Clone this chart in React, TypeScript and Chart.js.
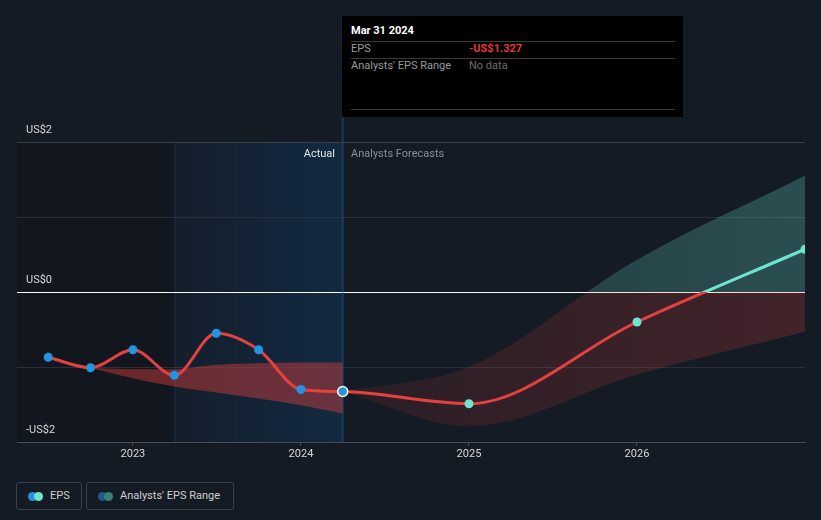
import React, { useEffect, useRef } from 'react';
import { Chart, registerables } from 'chart.js';

Chart.register(...registerables);

// ---- data ----
const epsDates = ['2022-06-30', '2022-09-30', '2022-12-31', '2023-03-31', '2023-06-30', '2023-09-30', '2023-12-31', '2024-03-31'];
const epsValues = [-0.87, -1.01, -0.77, -1.11, -0.55, -0.77, -1.3, -1.327];
const forecastDates = ['2024-12-31', '2025-12-31', '2026-12-31'];
const forecastValues = [-1.49, -0.4, 0.57];
const pastRangeDates = ['2022-09-30', '2022-12-31', '2023-03-31', '2023-06-30', '2023-09-30', '2023-12-31', '2024-03-31'];
const pastRangeHigh = [-1.01, -1.03, -1.03, -0.97, -0.95, -0.94, -0.94];
const pastRangeLow = [-1.01, -1.15, -1.26, -1.34, -1.42, -1.51, -1.62];
const futureRangeDates = ['2024-03-31', '2024-12-31', '2025-12-31', '2026-12-31'];
const futureRangeHigh = [-1.327, -1.0, 0.43, 1.55];
const futureRangeLow = [-1.327, -1.79, -1.1, -0.53];
const xTickYears = [2023, 2024, 2025, 2026];
const yGridValues = [-2, -1, 0, 1, 2];
const yLabelValues = [-2, 0, 2];
const highlightStart = '2023-03-31';
const highlightEnd = '2024-03-31';
const xMinYear = 2022.31;
const xMaxYear = 2027.0;

const toYear = (s: string) => {
  const d = new Date(s + 'T00:00:00Z');
  const y = d.getUTCFullYear();
  const start = Date.UTC(y, 0, 1);
  const end = Date.UTC(y + 1, 0, 1);
  return y + (d.getTime() - start + 86400000) / (end - start);
};

const pts = (dates: string[], vals: number[]) => dates.map((d, i) => ({ x: toYear(d), y: vals[i] }));

const RED = '#e5413f';
const CYAN = '#6ee6cf';
const BLUE = '#2394df';

const zeroGradient = (chart: any, above: string, below: string) => {
  const { ctx, chartArea, scales } = chart;
  if (!chartArea || !scales.y) return below;
  const y0 = scales.y.getPixelForValue(0);
  const g = ctx.createLinearGradient(0, chartArea.top, 0, chartArea.bottom);
  const s = Math.min(1, Math.max(0, (y0 - chartArea.top) / (chartArea.bottom - chartArea.top)));
  g.addColorStop(0, above);
  g.addColorStop(s, above);
  g.addColorStop(s, below);
  g.addColorStop(1, below);
  return g;
};

const zonePattern = (chart: any) => {
  const { chartArea, scales } = chart;
  if (!chartArea || !scales.y) return 'rgba(229,65,63,0.15)';
  const W = chart.width;
  const H = chart.height;
  const c = document.createElement('canvas');
  c.width = W;
  c.height = H;
  const g = c.getContext('2d') as CanvasRenderingContext2D;
  const y0 = scales.y.getPixelForValue(0);
  const x0 = scales.x.getPixelForValue(toYear(highlightEnd));
  const x1 = chartArea.right;
  const ga = g.createLinearGradient(x0, 0, x1, 0);
  ga.addColorStop(0, 'rgba(95,200,185,0.16)');
  ga.addColorStop(1, 'rgba(95,200,185,0.30)');
  g.fillStyle = ga;
  g.fillRect(0, 0, W, y0);
  const gb = g.createLinearGradient(x0, 0, x1, 0);
  gb.addColorStop(0, 'rgba(229,65,63,0.10)');
  gb.addColorStop(1, 'rgba(229,65,63,0.22)');
  g.fillStyle = gb;
  g.fillRect(0, y0, W, H - y0);
  return chart.ctx.createPattern(c, 'no-repeat');
};

const bandsPlugin = {
  id: 'bands',
  beforeDraw(chart: any) {
    const { ctx, chartArea: a, scales } = chart;
    const x = scales.x;
    const xs = x.getPixelForValue(toYear(highlightStart));
    const xe = x.getPixelForValue(toYear(highlightEnd));
    ctx.save();
    ctx.fillStyle = 'rgba(0,0,0,0.13)';
    ctx.fillRect(a.left, a.top, xs - a.left, a.bottom - a.top);
    const g = ctx.createLinearGradient(xs, 0, xe, 0);
    g.addColorStop(0, 'rgba(10,100,180,0.05)');
    g.addColorStop(1, 'rgba(10,100,180,0.21)');
    ctx.fillStyle = g;
    ctx.fillRect(xs, a.top, xe - xs, a.bottom - a.top);
    ctx.fillStyle = 'rgba(40,110,180,0.22)';
    ctx.fillRect(xs, a.top, 1, a.bottom - a.top);
    ctx.restore();
  },
  beforeDatasetsDraw(chart: any) {
    const { ctx, chartArea: a, scales } = chart;
    const xe = scales.x.getPixelForValue(toYear(highlightEnd));
    ctx.save();
    ctx.fillStyle = 'rgba(35,95,150,0.42)';
    ctx.fillRect(xe - 1, 16, 2, a.bottom - 16);
    ctx.restore();
  },
};

const FONT = 'Roboto, "Noto Sans", sans-serif';

export default function App() {
  const ref = useRef<HTMLCanvasElement | null>(null);

  useEffect(() => {
    document.body.style.margin = '0';
    document.body.style.background = '#151b24';
    const canvas = ref.current;
    if (!canvas) return;
    const epsData = [...pts(epsDates, epsValues), ...pts(forecastDates, forecastValues)];
    const nPast = epsDates.length;
    const pointBg = epsData.map((_, i) => (i < nPast ? BLUE : CYAN));
    const pointBorder = epsData.map((_, i) => (i === nPast - 1 ? '#ffffff' : 'rgba(0,0,0,0)'));
    const pointBorderW = epsData.map((_, i) => (i === nPast - 1 ? 1.5 : 0));
    const pointR = epsData.map((_, i) => (i === nPast - 1 ? 5 : 4.5));

    const chart = new Chart(canvas, {
      type: 'line',
      data: {
        datasets: [
          {
            label: 'EPS',
            data: epsData,
            borderColor: (c: any) => zeroGradient(c.chart, CYAN, RED),
            borderWidth: 3,
            cubicInterpolationMode: 'monotone',
            pointBackgroundColor: pointBg,
            pointBorderColor: pointBorder,
            pointBorderWidth: pointBorderW,
            pointRadius: pointR,
            fill: false,
          },
          {
            label: 'pastHigh',
            data: pts(pastRangeDates, pastRangeHigh),
            borderWidth: 0,
            borderColor: 'rgba(0,0,0,0)',
            pointRadius: 0,
            cubicInterpolationMode: 'monotone',
            backgroundColor: 'rgba(229,65,63,0.42)',
            fill: '+1',
          },
          {
            label: 'pastLow',
            data: pts(pastRangeDates, pastRangeLow),
            borderWidth: 0,
            borderColor: 'rgba(0,0,0,0)',
            pointRadius: 0,
            cubicInterpolationMode: 'monotone',
            fill: false,
          },
          {
            label: 'futureHigh',
            data: pts(futureRangeDates, futureRangeHigh),
            borderWidth: 0,
            borderColor: 'rgba(0,0,0,0)',
            pointRadius: 0,
            cubicInterpolationMode: 'monotone',
            backgroundColor: (c: any) => zonePattern(c.chart),
            fill: '+1',
          },
          {
            label: 'futureLow',
            data: pts(futureRangeDates, futureRangeLow),
            borderWidth: 0,
            borderColor: 'rgba(0,0,0,0)',
            pointRadius: 0,
            cubicInterpolationMode: 'monotone',
            fill: false,
          },
        ],
      } as any,
      options: {
        responsive: false,
        devicePixelRatio: 1,
        animation: false,
        events: [],
        layout: { padding: { top: 142, left: 17, right: 16, bottom: 0 } },
        plugins: { legend: { display: false }, tooltip: { enabled: false } },
        scales: {
          x: {
            type: 'linear',
            min: xMinYear,
            max: xMaxYear,
            afterBuildTicks: (axis: any) => {
              axis.ticks = xTickYears.map((v) => ({ value: v }));
            },
            afterFit: (axis: any) => {
              axis.height = 28;
            },
            grid: { display: true, drawOnChartArea: false, drawTicks: true, tickLength: 4, color: '#474c55' },
            border: { display: true, color: '#474c55', width: 1 },
            ticks: {
              color: '#d6d6d6',
              font: { family: FONT, size: 11 },
              padding: 2,
              maxRotation: 0,
              autoSkip: false,
              callback: (v: any) => String(v),
            },
          },
          y: {
            type: 'linear',
            min: -2,
            max: 2,
            afterBuildTicks: (axis: any) => {
              axis.ticks = yGridValues.map((v) => ({ value: v }));
            },
            afterFit: (axis: any) => {
              axis.width = 0;
            },
            grid: {
              drawTicks: false,
              color: (c: any) => {
                const v = c.tick && c.tick.value;
                if (v === 0) return '#ffffff';
                if (v === 2) return '#3a4048';
                if (v === -2) return '#474c55';
                return '#2a3038';
              },
              lineWidth: 1,
            },
            border: { display: false },
            ticks: {
              mirror: true,
              padding: 9,
              labelOffset: -12,
              color: '#d6d6d6',
              font: { family: FONT, size: 11 },
              callback: (v: any) =>
                yLabelValues.includes(v) ? (v < 0 ? '-' : '') + 'US$' + Math.abs(v) : '',
            },
          },
        },
      } as any,
      plugins: [bandsPlugin],
    });
    return () => chart.destroy();
  }, []);

  const txt = (extra: any) => ({
    position: 'absolute' as const,
    fontSize: 11,
    lineHeight: '14px',
    whiteSpace: 'nowrap' as const,
    ...extra,
  });

  return (
    <div
      style={{
        position: 'relative',
        width: 821,
        height: 520,
        background: '#151b24',
        fontFamily: FONT,
        overflow: 'hidden',
      }}
    >
      <canvas ref={ref} width={821} height={470} style={{ position: 'absolute', left: 0, top: 0 }} />

      <div style={txt({ right: 821 - 335, top: 147, color: '#e6e6e6' })}>Actual</div>
      <div style={txt({ left: 351, top: 147, color: '#8a8f96' })}>Analysts Forecasts</div>

      <div style={{ position: 'absolute', left: 342, top: 16, width: 341, height: 101, background: '#000' }}>
        <div style={txt({ left: 9, top: 8, color: '#ffffff', fontWeight: 700 })}>Mar 31 2024</div>
        <div style={{ position: 'absolute', left: 9, top: 25, width: 324, height: 1, background: '#3a3a3a' }} />
        <div style={txt({ left: 9, top: 26, color: '#9a9a9a' })}>EPS</div>
        <div style={txt({ left: 127, top: 26, color: '#e5383b', fontWeight: 700 })}>-US$1.327</div>
        <div style={{ position: 'absolute', left: 9, top: 42, width: 324, height: 1, background: '#3a3a3a' }} />
        <div style={txt({ left: 9, top: 43, color: '#9a9a9a' })}>Analysts' EPS Range</div>
        <div style={txt({ left: 127, top: 43, color: '#6f6f6f' })}>No data</div>
        <div style={{ position: 'absolute', left: 9, top: 93, width: 324, height: 1, background: '#3a3a3a' }} />
      </div>

      <div
        style={{
          position: 'absolute',
          left: 16,
          top: 482,
          width: 64,
          height: 26,
          border: '1px solid #3b4049',
          borderRadius: 3,
        }}
      >
        <div style={{ position: 'absolute', left: 11, top: 9, width: 9, height: 9, borderRadius: '50%', background: BLUE }} />
        <div style={{ position: 'absolute', left: 17, top: 9, width: 9, height: 9, borderRadius: '50%', background: CYAN }} />
        <div style={txt({ left: 33, top: 6, color: '#cfcfcf', fontSize: 11 })}>EPS</div>
      </div>
      <div
        style={{
          position: 'absolute',
          left: 86,
          top: 482,
          width: 146,
          height: 26,
          border: '1px solid #3b4049',
          borderRadius: 3,
        }}
      >
        <div style={{ position: 'absolute', left: 11, top: 9, width: 9, height: 9, borderRadius: '50%', background: '#1f5a86' }} />
        <div style={{ position: 'absolute', left: 17, top: 9, width: 9, height: 9, borderRadius: '50%', background: '#3b7f78' }} />
        <div style={txt({ left: 33, top: 6, color: '#cfcfcf', fontSize: 11 })}>Analysts' EPS Range</div>
      </div>
    </div>
  );
}
